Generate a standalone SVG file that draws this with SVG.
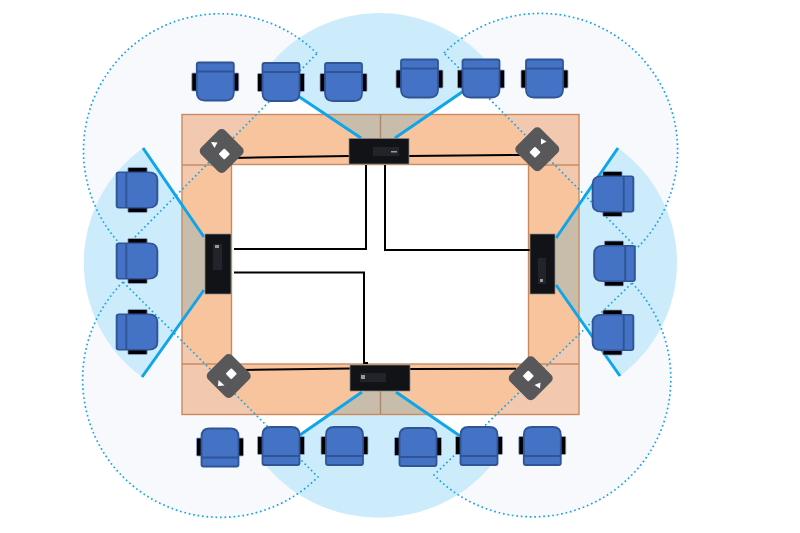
<svg xmlns="http://www.w3.org/2000/svg" width="800" height="533" viewBox="0 0 800 533">
<style>
.sec{fill:#cdecfb}
.semi{fill:#f7f9fd}
.pale{fill:#f2c9af}
.beige{fill:#c8bcaa}
.dot{fill:none;stroke:#19a5e6;stroke-width:1.7;stroke-dasharray:1.7 2.8}
.beam{stroke:#0ea5e9;stroke-width:3;fill:none}
.wire{stroke:#000;stroke-width:2;fill:none}
.seam{stroke:#c98a62;stroke-width:1.4;fill:none}
.joint{stroke:#a98a70;stroke-width:1.4;fill:none}
.dev{fill:#111317;stroke:#8b8b8b;stroke-width:.7}
.panel{fill:#22242b}
.mark{fill:#9a9a9a}
.dia{fill:#58585a}
.wh{fill:#fff}
.seat{fill:#4472c4;stroke:#2f5597;stroke-width:1.8}
.arm{fill:#000;stroke:#8fa6d4;stroke-width:.8}
.strip{fill:none;stroke:#2f5597;stroke-width:1.8}
</style>
<defs>
<path id="semiTL" d="M317 53.500A137 137 0 0 0 124 248Z"/>
<path id="semiTR" d="M444 53A137 137 0 0 1 637 248Z"/>
<path id="semiBL" d="M123 282A137 137 0 0 0 318 477Z"/>
<path id="semiBR" d="M632 283A137 137 0 0 1 434 475Z"/>
<path id="secT" d="M378 150L268 77L272 62A143 143 0 0 1 483 57L488 77Z"/>
<path id="secL" d="M222 264L143 148A141 141 0 0 0 142 377Z"/>
<path id="secR" d="M539 262L618 148A141 141 0 0 1 620 376Z"/>
<path id="secB" d="M379 381L270 453L267 467A148 148 0 0 0 490 467L487 453Z"/>
<clipPath id="band"><path clip-rule="evenodd" d="M182 114H579V414H182ZM231 165V364H528V165Z"/></clipPath>
<g id="chair">
<rect class="arm" x="-23.500" y="-8.500" width="7" height="18" rx="1"/>
<rect class="arm" x="16.500" y="-8.500" width="7" height="18" rx="1"/>
<path class="seat" d="M-16.500 -19H16.500Q18.500 -19 18.500 -17V11Q18.500 19 10.500 19H-10.500Q-18.500 19 -18.500 11V-17Q-18.500 -19 -16.500 -19Z"/>
<path class="strip" d="M-18.500 -10H18.500"/>
</g>
</defs>
<g id="coverage">
<use href="#semiTL" class="semi"/><use href="#semiTR" class="semi"/><use href="#semiBL" class="semi"/><use href="#semiBR" class="semi"/>
<use href="#secT" class="sec"/><use href="#secL" class="sec"/><use href="#secR" class="sec"/><use href="#secB" class="sec"/>
</g>
<g id="table">
<g clip-path="url(#band)">
<rect x="182" y="114" width="397" height="300" fill="#f8c49d"/>
<use href="#semiTL" class="pale"/><use href="#semiTR" class="pale"/><use href="#semiBL" class="pale"/><use href="#semiBR" class="pale"/>
<use href="#secT" class="beige"/><use href="#secL" class="beige"/><use href="#secR" class="beige"/><use href="#secB" class="beige"/>
</g>
<rect x="182" y="114.500" width="397" height="300" class="seam"/>
<rect x="231.500" y="164.500" width="297" height="199.500" class="seam"/>
<path class="seam" d="M182 165H231M528 165H579M182 364H231M528 364H579"/>
<path class="joint" d="M380.500 114V164M380.500 365V414"/>
</g>
<g id="connectors">
<use href="#semiTL" class="dot"/><use href="#semiTR" class="dot"/><use href="#semiBL" class="dot"/><use href="#semiBR" class="dot"/>
<path class="beam" d="M298 96L361 138M465 90L395 138M204 237L143 148M204 290L142 377M556 238L618 148M556 285L620 376M300 435L362 392M396 392L460 436"/>
<path class="wire" d="M232 158L349 156M409 156L522 155M240 370L350 368.500M410 369L516 368.700"/>
<path class="wire" d="M366 165V249H234M385 165V250H530M234 272.500H364V363H368"/>
</g>
<g id="cam-top"><rect class="dev" x="349" y="138.500" width="60" height="25.500"/><rect class="panel" x="373" y="147" width="26" height="9"/><rect class="mark" x="391" y="151" width="6" height="1.500"/></g>
<g id="cam-bottom"><rect class="dev" x="350" y="365" width="60" height="26"/><rect class="panel" x="360" y="373" width="26" height="9"/><rect class="mark" x="361" y="375" width="4" height="4"/></g>
<g id="cam-left"><rect class="dev" x="205" y="234" width="26" height="60"/><rect class="panel" x="213" y="244" width="9" height="26"/><rect class="mark" x="215" y="245" width="4" height="3"/></g>
<g id="cam-right"><rect class="dev" x="530" y="234" width="25" height="60"/><rect class="panel" x="538" y="258" width="8" height="26"/><rect class="mark" x="540" y="279" width="3" height="3"/></g>
<g id="mic-tl"><rect class="dia" x="-17" y="-17" width="34" height="34" rx="5" transform="translate(221.700 151) rotate(45)"/><rect class="wh" x="-4" y="-4" width="8" height="8" rx="1" transform="translate(224.300 154) rotate(45)"/><path class="wh" d="M211 142L217.500 142.500L214.500 148Z"/></g>
<g id="mic-tr"><rect class="dia" x="-17" y="-17" width="34" height="34" rx="5" transform="translate(537.300 149.300) rotate(45)"/><rect class="wh" x="-4" y="-4" width="8" height="8" rx="1" transform="translate(535 152.300) rotate(45)"/><path class="wh" d="M541 138.500L546.500 141.500L541 144.500Z"/></g>
<g id="mic-bl"><rect class="dia" x="-17" y="-17" width="34" height="34" rx="5" transform="translate(228.700 376) rotate(45)"/><rect class="wh" x="-4" y="-4" width="8" height="8" rx="1" transform="translate(231.300 373.700) rotate(45)"/><path class="wh" d="M218.500 380L224.500 385.500L218 386Z"/></g>
<g id="mic-br"><rect class="dia" x="-17" y="-17" width="34" height="34" rx="5" transform="translate(530.700 378.300) rotate(45)"/><rect class="wh" x="-4" y="-4" width="8" height="8" rx="1" transform="translate(528.300 376) rotate(45)"/><path class="wh" d="M534.500 385L540.500 382.500L540 388.500Z"/></g>
<g id="chair-t1"><use href="#chair" transform="translate(215.300 81.500)"/></g>
<g id="chair-t2"><use href="#chair" transform="translate(281 82)"/></g>
<g id="chair-t3"><use href="#chair" transform="translate(343.500 82)"/></g>
<g id="chair-t4"><use href="#chair" transform="translate(419.500 78.500)"/></g>
<g id="chair-t5"><use href="#chair" transform="translate(481 78.500)"/></g>
<g id="chair-t6"><use href="#chair" transform="translate(544.500 78.500)"/></g>
<g id="chair-b1"><use href="#chair" transform="translate(220 447.500) rotate(180)"/></g>
<g id="chair-b2"><use href="#chair" transform="translate(281 446) rotate(180)"/></g>
<g id="chair-b3"><use href="#chair" transform="translate(344.500 446) rotate(180)"/></g>
<g id="chair-b4"><use href="#chair" transform="translate(418 447) rotate(180)"/></g>
<g id="chair-b5"><use href="#chair" transform="translate(479 446) rotate(180)"/></g>
<g id="chair-b6"><use href="#chair" transform="translate(542.300 446) rotate(180)"/></g>
<g id="chair-l1"><use href="#chair" transform="translate(137 190) rotate(-90) scale(.96 1.07)"/></g>
<g id="chair-l2"><use href="#chair" transform="translate(137 261) rotate(-90) scale(.96 1.07)"/></g>
<g id="chair-l3"><use href="#chair" transform="translate(137 332) rotate(-90) scale(.96 1.07)"/></g>
<g id="chair-r1"><use href="#chair" transform="translate(613 194) rotate(90) scale(.96 1.07)"/></g>
<g id="chair-r2"><use href="#chair" transform="translate(614.500 263.500) rotate(90) scale(.96 1.07)"/></g>
<g id="chair-r3"><use href="#chair" transform="translate(613 332.500) rotate(90) scale(.96 1.07)"/></g>
</svg>
